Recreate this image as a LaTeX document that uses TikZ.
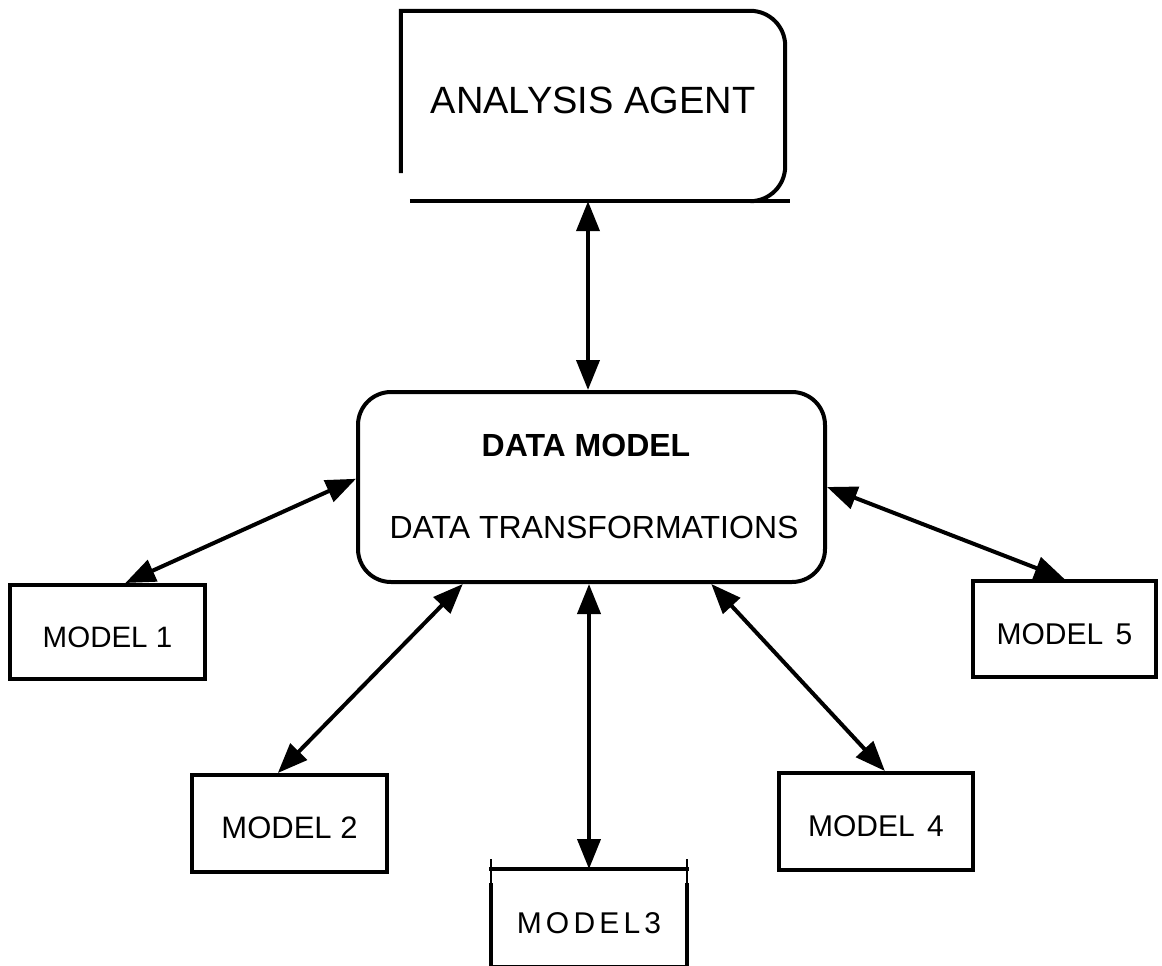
\documentclass[tikz,border=0pt]{standalone}
\usepackage{fontspec}
\setmainfont{Liberation Sans}
\usetikzlibrary{arrows.meta,calc}
\tikzset{
  boxline/.style={line width=4pt},
  modelbox/.style={draw, line width=4pt, inner sep=0pt, text height=30pt,
    text depth=0pt, font=\fontsize{30}{32}\selectfont},
  link/.style={line width=4pt,
    {Triangle[length=30pt,width=23pt]}-{Triangle[length=30pt,width=23pt]}},
  tick/.style={line width=1.5pt},
}
\begin{document}
\begin{tikzpicture}[x=1pt,y=1pt]
\useasboundingbox (0,0) rectangle (1162,-966);

% analysis agent: square left corners, rounded right corners
\node[minimum width=384pt, minimum height=190pt, inner sep=0pt] (aa) at (593,-106) {};
\node[font=\fontsize{38}{41}\selectfont] (aatext) at (593,-100) {ANALYSIS AGENT};
\draw[boxline] ([yshift=28pt]aa.south west) -- (aa.north west)
  -- ([xshift=-35pt]aa.north east) arc[start angle=90, end angle=0, radius=35pt]
  -- ([yshift=35pt]aa.south east) arc[start angle=0, end angle=-90, radius=35pt];
\draw[boxline] ([xshift=9pt]aa.south west) -- ([xshift=5pt]aa.south east);

% central data model
\node[draw, boxline, rounded corners=33pt, minimum width=467pt,
  minimum height=190pt] (dm) at (591.5,-487) {};
\node[font=\fontsize{32}{35}\selectfont\bfseries] (dmtitle) at (586,-445) {DATA MODEL};
\node[font=\fontsize{32}{35}\selectfont] (dmsub) at (594,-527) {DATA TRANSFORMATIONS};

% models
\node[modelbox, minimum width=195pt, minimum height=94pt,
  font=\fontsize{29.5}{32}\selectfont] (m1) at (107.5,-632) {MODEL 1};
\node[modelbox, minimum width=195pt, minimum height=97pt,
  font=\fontsize{31}{33}\selectfont] (m2) at (289.5,-823.5) {MODEL 2};
\node[modelbox, draw=none, minimum width=192pt, minimum height=94pt,
  font=\fontsize{30}{32}\selectfont\addfontfeatures{LetterSpace=14}]
  (m3) at (589,-918) {MODEL3};
\node[modelbox, minimum width=194pt, minimum height=97pt] (m4) at (876,-821.5) {MODEL \kern4pt4};
\node[modelbox, minimum width=183pt, minimum height=96pt] (m5) at (1064.5,-629) {MODEL \kern4pt5};

% model 3 outline: top and bottom rules, sides starting a little below the top,
% thin ticks above the top corners
\draw[boxline] ([xshift=-2pt]m3.north west) -- ([xshift=2pt]m3.north east);
\draw[boxline] ([xshift=-2pt]m3.south west) -- ([xshift=2pt]m3.south east);
\draw[boxline] ([yshift=-14pt]m3.north west) -- (m3.south west);
\draw[boxline] ([yshift=-14pt]m3.north east) -- (m3.south east);
\draw[tick] ([yshift=10pt]m3.north west) -- ([yshift=-14pt]m3.north west);
\draw[tick] ([yshift=10pt]m3.north east) -- ([yshift=-14pt]m3.north east);

% connectors
\draw[link] ([xshift=-3.5pt]aa.south -| dm.north) -- ([xshift=-3.5pt]dm.north);
\draw[link] (dm.178) -- (m1.70);
\draw[link] (dm.217) -- (m2.103);
\draw[link] (dm.south -| m3.north) -- (m3.north);
\draw[link] (dm.321) -- (m4.80);
\draw[link] (dm.0) -- (m5.north);
\end{tikzpicture}
\end{document}
